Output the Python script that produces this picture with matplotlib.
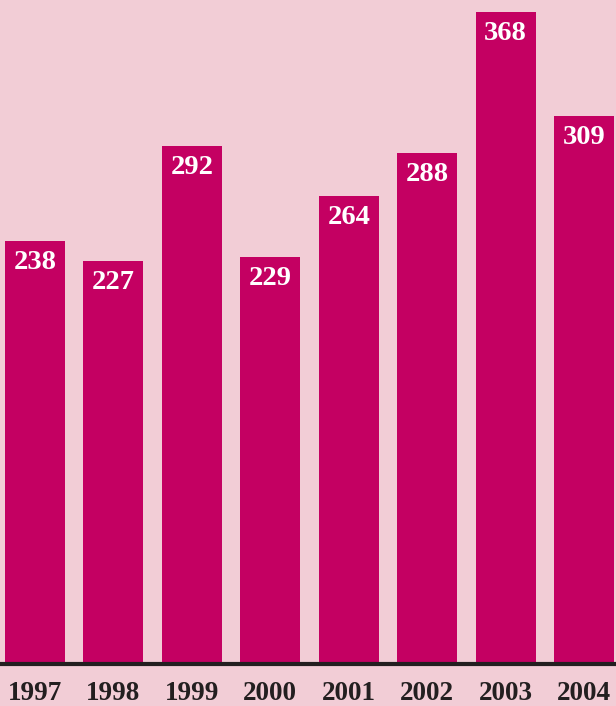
import matplotlib.pyplot as plt

years = ['1997', '1998', '1999', '2000', '2001', '2002', '2003', '2004']
counts = [238, 227, 292, 229, 264, 288, 368, 309]

bg = '#f2cdd6'
bar_color = '#c40062'
dark = '#231f20'

fig = plt.figure(figsize=(6.16, 7.06), dpi=100, facecolor=bg)
# axes spans full width, bottom at the baseline (pixel 662 from top)
ax = fig.add_axes([0, 44 / 706, 1, 662 / 706])
ax.set_facecolor(bg)

pitch = 78.43
xs = list(range(len(years)))
ax.bar(xs, counts, width=60 / pitch, color=bar_color, zorder=2)
ax.set_xlim(-35 / pitch, (616 - 35) / pitch)
ax.set_ylim(0, 662 / 1.767)

for x, v in zip(xs, counts):
    ax.annotate(str(v), (x, v), xytext=(0, -15.5), textcoords='offset points',
                ha='center', va='center', color='white', fontsize=20.5,
                fontweight='bold', family='Liberation Serif', zorder=3)

# spine first: set_position resets the ticks
for side in ['top', 'left', 'right']:
    ax.spines[side].set_visible(False)
ax.spines['bottom'].set_color(dark)
ax.spines['bottom'].set_linewidth(3)
ax.spines['bottom'].set_position(('outward', 1.4))

ax.set_xticks(xs)
ax.set_xticklabels(years, fontsize=19.5, fontweight='bold',
                   family='Liberation Serif', color=dark)
ax.tick_params(axis='x', length=0, pad=12)
ax.set_yticks([])

fig.savefig('out.png', dpi=100, facecolor=bg)
